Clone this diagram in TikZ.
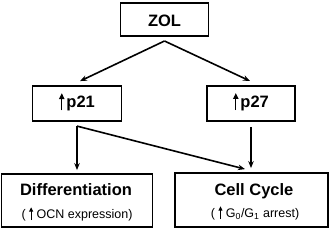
\documentclass[tikz,border=0pt]{standalone}
\usepackage{fontspec}
\setmainfont{Liberation Sans}
\usetikzlibrary{arrows.meta}

% small filled up arrow used inside the boxes
\newcommand{\upmark}{\tikz[baseline=0pt]\draw[line width=0.08em, -{Triangle[length=0.36em, width=0.32em]}] (0,-0.14em) -- (0,0.9em);}

\begin{document}
\begin{tikzpicture}[x=1pt, y=-1pt,
    box/.style={draw, line width=1.8pt, inner sep=0pt},
    title/.style={font=\fontsize{16.5}{19}\selectfont\bfseries},
    sub/.style={font=\fontsize{12.5}{15}\selectfont},
    link/.style={-{Stealth[length=7pt, width=5.5pt]}, line width=1.6pt}]
    \useasboundingbox (0,0) rectangle (330,230);

    % Boxes
    \node[box, title, minimum width=88pt, minimum height=33pt, text height=15.4pt, text depth=0pt] (zol) at (164.5,19.3) {ZOL};
    \node[box, title, minimum width=89pt, minimum height=35pt, text height=11pt, text depth=2pt] (p21) at (77,103.5) {\upmark\kern2pt p21};
    \node[box, title, minimum width=88pt, minimum height=35pt, text height=11pt, text depth=2pt] (p27) at (251,103.4) {\upmark\kern2pt p27};
    \node[box, minimum width=151pt, minimum height=53pt] (diff) at (77,200.5) {};
    \node[box, minimum width=153pt, minimum height=54pt] (cell) at (251.5,200) {};

    % Texts of the lower boxes
    \node[title, anchor=base, inner sep=0pt] (difftitle) at (76,196) {Differentiation};
    \node[sub, anchor=base, inner sep=0pt] (diffsub) at (77,218.5) {(\;\upmark\;OCN expression)};
    \node[title, anchor=base, inner sep=0pt] (celltitle) at (254,195.5) {Cell Cycle};
    \node[sub, anchor=base, inner sep=0pt] (cellsub) at (255,217.5) {(\;\upmark\;G\textsubscript{0}/G\textsubscript{1} arrest)};

    % Arrows
    \draw[link] ([yshift=-4.3pt]zol.south) -- ([xshift=3pt, yshift=4pt]p21.north);
    \draw[link] ([yshift=-4.3pt]zol.south) -- ([xshift=-1pt, yshift=4pt]p27.north);
    \draw[link] ([yshift=-4.2pt]p21.south) -- ([yshift=3pt]p21.south |- diff.north);
    \draw[link] ([yshift=-4.2pt]p21.south) -- ([xshift=-6.5pt, yshift=3pt]cell.north);
    \draw[link] ([yshift=-5pt]p27.south) -- ([yshift=4pt]p27.south |- cell.north);
\end{tikzpicture}
\end{document}
